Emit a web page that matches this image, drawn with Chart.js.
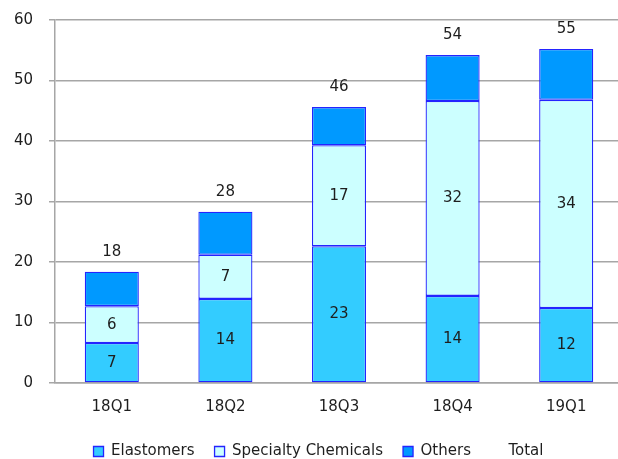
<!DOCTYPE html>
<html><head><meta charset="utf-8">
<script src="https://cdn.jsdelivr.net/npm/chart.js@4/dist/chart.umd.min.js"></script>
<style>html,body{margin:0;padding:0;overflow:hidden;background:#fff}#wrap{width:624px;height:459px;position:relative}</style>
</head><body><div id="wrap"><canvas id="c"></canvas></div>
<script>
const categories = ['18Q1', '18Q2', '18Q3', '18Q4', '19Q1'];
const elastomers = [6.6, 13.9, 22.6, 14.4, 12.4];
const specialty = [6.1, 7.3, 16.7, 32.2, 34.4];
const others = [5.7, 7.1, 6.3, 7.6, 8.4];
const totals = [18.4, 28.3, 45.6, 54.2, 55.2];
const yTicks = [0, 10, 20, 30, 40, 50, 60];

const FONT = 'DejaVu Sans';
const TXT = '#1e1e1e';
const GRID = '#a6a6a6';
const EDGE = '#2424ff';

const labelPlugin = {
  id: 'labels',
  afterDatasetsDraw(chart) {
    const ctx = chart.ctx;
    ctx.save();
    ctx.font = '15px "' + FONT + '"';
    ctx.fillStyle = TXT;
    ctx.textAlign = 'center';
    ctx.textBaseline = 'middle';
    chart.data.datasets.forEach((ds, di) => {
      const meta = chart.getDatasetMeta(di);
      if (ds.type === 'line') {
        const ys = chart.scales.y;
        meta.data.forEach((el, i) => {
          ctx.fillText(String(Math.round(ds.data[i])), el.x, ys.getPixelForValue(ds.data[i]) - 20);
        });
        return;
      }
      if (!ds.showLabels) return;
      meta.data.forEach((el, i) => {
        ctx.fillText(String(Math.round(ds.data[i])), el.x, (el.y + el.base) / 2);
      });
    });
    ctx.restore();
  }
};

new Chart(document.getElementById('c'), {
  type: 'bar',
  data: {
    labels: categories,
    datasets: [
      { label: 'Elastomers', data: elastomers, backgroundColor: '#33ccff', borderColor: EDGE, borderWidth: 1.3, borderSkipped: false, showLabels: true },
      { label: 'Specialty Chemicals', data: specialty, backgroundColor: '#ccffff', borderColor: EDGE, borderWidth: 1.3, borderSkipped: false, showLabels: true },
      { label: 'Others', data: others, backgroundColor: '#0099ff', borderColor: EDGE, borderWidth: 1.3, borderSkipped: false, showLabels: false },
      { label: 'Total', type: 'line', data: totals, backgroundColor: 'rgba(0,0,0,0)', borderColor: 'rgba(0,0,0,0)', borderWidth: 0, showLine: false, pointRadius: 0 }
    ]
  },
  options: {
    responsive: true,
    maintainAspectRatio: false,
    animation: false,
    layout: { padding: { top: 20, left: 14, right: 1, bottom: -10 } },
    datasets: { bar: { barPercentage: 0.476, categoryPercentage: 1 } },
    plugins: {
      tooltip: { enabled: false },
      legend: {
        position: 'bottom',
        labels: { font: { family: FONT, size: 15 }, color: TXT, boxWidth: 10, boxHeight: 10, padding: 20,
          sort: (a, b) => a.datasetIndex - b.datasetIndex }
      }
    },
    scales: {
      x: {
        stacked: true,
        grid: { display: false },
        border: { display: true, color: GRID, width: 1.5 },
        ticks: { font: { family: FONT, size: 15 }, color: TXT, padding: 7.5 }
      },
      y: {
        stacked: true,
        min: 0, max: 60,
        afterBuildTicks(scale) { scale.ticks = yTicks.map(v => ({ value: v })); },
        afterFit(scale) { scale.width = 41; scale.paddingTop = 0; scale.paddingBottom = 0; },
        grid: { color: GRID, lineWidth: 1.5, tickLength: 6 },
        border: { display: true, color: GRID, width: 1.5 },
        ticks: { font: { family: FONT, size: 15 }, color: TXT, padding: 16 }
      }
    }
  },
  plugins: [labelPlugin]
});
</script></body></html>
